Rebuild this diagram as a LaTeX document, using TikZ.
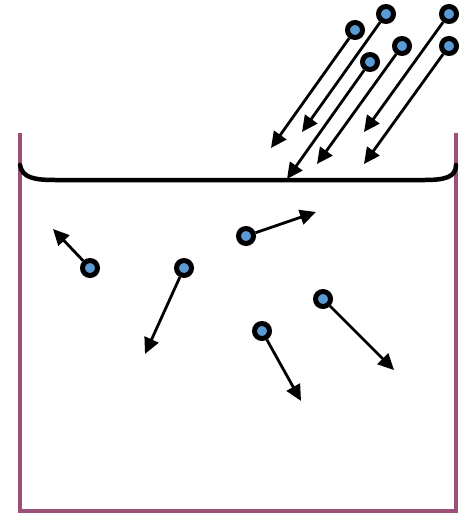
\documentclass[tikz,border=0pt]{standalone}
\usetikzlibrary{arrows.meta}
\definecolor{wall}{RGB}{155,80,120}
\definecolor{pblue}{RGB}{91,155,213}
\begin{document}
\begin{tikzpicture}[x=1pt,y=-1pt,
  particle/.style={circle,draw=black,fill=pblue,line width=5pt,minimum size=15pt,inner sep=0pt},
  arr/.style={line width=2.8pt,-{Triangle[length=16pt,width=15pt]}},
  wallline/.style={draw=wall,line width=4pt},
  surface/.style={draw=black,line width=4.5pt,line cap=round}]
\useasboundingbox (0,0) rectangle (466,513);
% container
\draw[wallline] (20,133) -- (20,511) -- (456,511) -- (456,133);
% surface
\draw[surface] (20,165) .. controls (22,178) and (35,180) .. (55,180) -- (425,180) .. controls (445,180) and (456,177) .. (456,165);
% incoming particles
\node[particle] (a1) at (355,30) {};
\node[particle] (a2) at (386,14) {};
\node[particle] (a3) at (449,14) {};
\node[particle] (a4) at (370,62) {};
\node[particle] (a5) at (402,46) {};
\node[particle] (a6) at (449,46) {};
\coordinate (t1) at (271,148);
\coordinate (t2) at (302,132);
\coordinate (t3) at (364,132);
\coordinate (t4) at (287,179);
\coordinate (t5) at (317,164);
\coordinate (t6) at (364,164);
\draw[arr] (a1) -- (t1);
\draw[arr] (a2) -- (t2);
\draw[arr] (a3) -- (t3);
\draw[arr] (a4) -- (t4);
\draw[arr] (a5) -- (t5);
\draw[arr] (a6) -- (t6);
% particles in liquid
\node[particle] (b1) at (90,268) {};
\node[particle] (b2) at (184,268) {};
\node[particle] (b3) at (246,236) {};
\node[particle] (b4) at (323,299) {};
\node[particle] (b5) at (262,331) {};
\coordinate (u1) at (53,229);
\coordinate (u2) at (145,354);
\coordinate (u3) at (316,212);
\coordinate (u4) at (394,370);
\coordinate (u5) at (301,401);
\draw[arr] (b1) -- (u1);
\draw[arr] (b2) -- (u2);
\draw[arr] (b3) -- (u3);
\draw[arr] (b4) -- (u4);
\draw[arr] (b5) -- (u5);
\end{tikzpicture}
\end{document}
